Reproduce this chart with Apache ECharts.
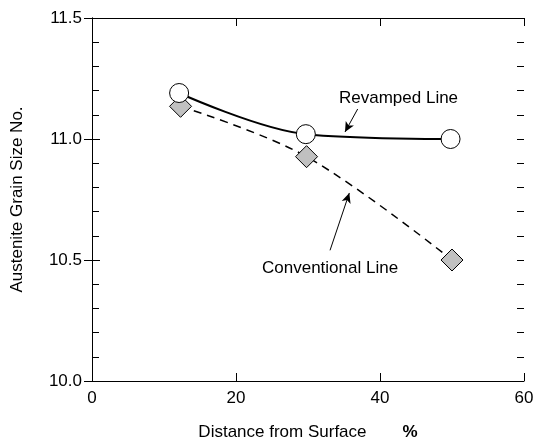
<!DOCTYPE html>
<html><head><meta charset="utf-8">
<script src="https://cdn.jsdelivr.net/npm/echarts@6/dist/echarts.min.js"></script>
<style>html,body{margin:0;padding:0;background:#fff}#c{width:537px;height:446px}</style>
</head><body><div id="c"></div>
<script>
const xTicks = [0, 20, 40, 60];
const yTicks = ['10.0', '10.5', '11.0', '11.5'];
const revampedX = [12.1, 29.7, 49.8];
const revampedY = [11.19, 11.02, 11.0];
const conventionalX = [12.3, 29.8, 50.0];
const conventionalY = [11.135, 10.927, 10.5];
const revampedArrow = [[36.9, 11.124], [35.14, 11.029]];
const conventionalArrow = [[33.06, 10.54], [35.74, 10.777]];

const F = 'Liberation Sans, Arial, sans-serif';
const FS = 17;
const chart = echarts.init(document.getElementById('c'));
const pairs = (xs, ys) => xs.map((x, i) => [x, ys[i]]);
const blk = { color: '#000', width: 1 };
function xAx(pos, show) {
  return {
    type: 'value', position: pos, min: 0, max: 60, interval: 20,
    axisLine: { show: true, lineStyle: blk }, splitLine: { show: false },
    axisTick: { inside: true, length: 8, lineStyle: blk },
    axisLabel: show ? { color: '#000', fontFamily: F, fontSize: FS, margin: 9 } : { show: false }
  };
}
function yAx(pos, interval, len, show) {
  return {
    type: 'value', position: pos, min: 10, max: 11.5, interval: interval,
    axisLine: { show: interval === 0.5, lineStyle: blk }, splitLine: { show: false },
    axisTick: { inside: true, length: len, lineStyle: blk },
    axisLabel: show ? { color: '#000', fontFamily: F, fontSize: FS, margin: 10,
      formatter: v => yTicks[Math.round((v - 10) / 0.5)] } : { show: false }
  };
}
const yLeft = yAx('left', 0.5, 8, true);
yLeft.name = 'Austenite Grain Size No.';
yLeft.nameLocation = 'middle';
yLeft.nameGap = 66;
yLeft.nameTextStyle = { fontFamily: F, fontSize: FS, color: '#000' };
const xBottom = xAx('bottom', true);
xBottom.name = '{a|Distance from Surface}{g|}{b|%}';
xBottom.nameLocation = 'middle';
xBottom.nameGap = 43;
xBottom.nameTextStyle = { rich: {
  a: { fontFamily: F, fontSize: FS, color: '#000' },
  g: { width: 36 },
  b: { fontFamily: F, fontSize: FS, fontWeight: 'bold', color: '#000' }
} };

chart.setOption({
  animation: false,
  grid: { left: 92, right: 13, top: 18, bottom: 61 },
  xAxis: [xBottom, xAx('top', false)],
  yAxis: [yLeft, yAx('right', 0.5, 8, false), yAx('left', 0.1, 7, false), yAx('right', 0.1, 7, false)],
  series: [
    {
      name: 'Conventional Line', type: 'line', smooth: 0.35,
      data: pairs(conventionalX, conventionalY),
      lineStyle: { color: '#000', width: 1.5, type: [8, 6] },
      symbol: 'diamond', symbolSize: 22,
      itemStyle: { color: '#c0c0c0', borderColor: '#000', borderWidth: 1 },
      z: 2,
      markLine: {
        silent: true, symbol: ['none', 'arrow'], symbolSize: [7, 10],
        lineStyle: { color: '#000', width: 1, type: 'solid' }, label: { show: false },
        data: [
          [{ coord: revampedArrow[0] }, { coord: revampedArrow[1] }],
          [{ coord: conventionalArrow[0] }, { coord: conventionalArrow[1] }]
        ]
      }
    },
    {
      name: 'Revamped Line', type: 'line', smooth: 0.35,
      data: pairs(revampedX, revampedY),
      lineStyle: { color: '#000', width: 2 },
      symbol: 'circle', symbolSize: 19,
      itemStyle: { color: '#fff', borderColor: '#000', borderWidth: 1 },
      z: 3
    }
  ],
  graphic: [
    { type: 'text', left: 339, top: 90, style: { text: 'Revamped Line', font: FS + 'px ' + F, fill: '#000' } },
    { type: 'text', left: 262, top: 260, style: { text: 'Conventional Line', font: FS + 'px ' + F, fill: '#000' } }
  ]
});
</script></body></html>
